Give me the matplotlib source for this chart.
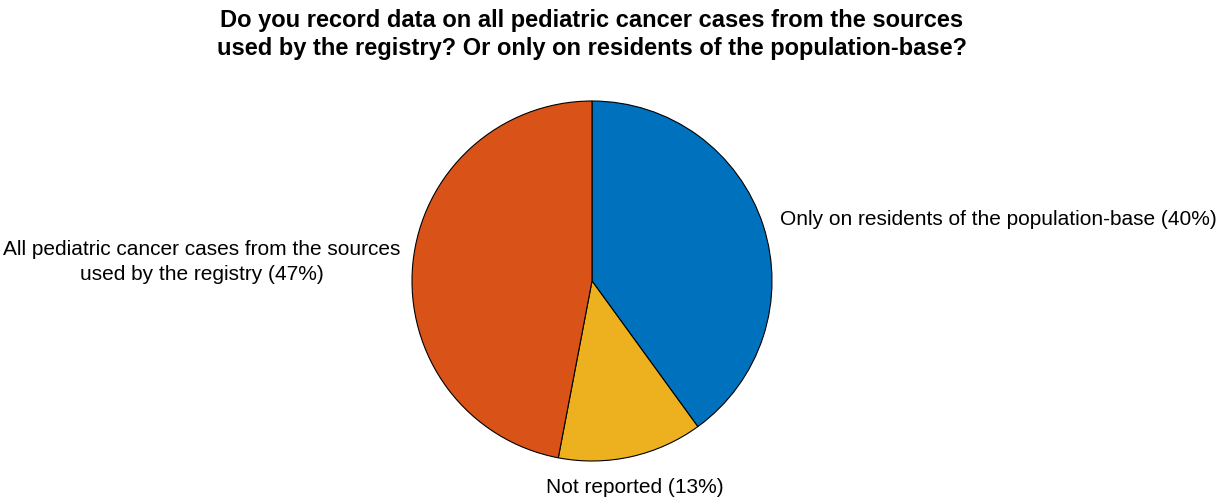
import numpy as np
import matplotlib
matplotlib.use("Agg")
import matplotlib.pyplot as plt

plt.rcParams['font.family'] = ['Liberation Sans', 'DejaVu Sans']

categories = [
    "Only on residents of the population-base",
    "Not reported",
    "All pediatric cancer cases from the sources\nused by the registry",
]
shares = [40, 13, 47]
colors = ["#0072BD", "#EDB120", "#D95319"]
title = ("Do you record data on all pediatric cancer cases from the sources\n"
         "used by the registry? Or only on residents of the population-base?")

W, H = 1216, 501
fig = plt.figure(figsize=(W / 100, H / 100), dpi=100)
cx, cy, r = 592, 281, 180
ax = fig.add_axes([(cx - r) / W, (H - cy - r) / H, 2 * r / W, 2 * r / H])

wedges, _ = ax.pie(shares, colors=colors, startangle=90, counterclock=False,
                   radius=1, wedgeprops=dict(edgecolor="black", linewidth=0.8))
ax.set_aspect("auto")
ax.set_xlim(-1, 1)
ax.set_ylim(-1, 1)
ax.axis("off")

for w, cat, val in zip(wedges, categories, shares):
    mid = np.deg2rad((w.theta1 + w.theta2) / 2)
    x, y = 1.1 * np.cos(mid), 1.1 * np.sin(mid)
    ha = "left" if x > 0.3 else ("right" if x < -0.3 else "center")
    if x < -0.3:
        x += 0.03
    va = "top" if y < -0.8 else ("bottom" if y > 0.8 else "center")
    if y < -0.8:
        y -= 0.02
    ax.text(x, y, f"{cat} ({val}%)", ha=ha, va=va, multialignment="center",
            fontsize=15, linespacing=1.4, clip_on=False)

fig.text(cx / W, 1 - 9 / H, title, ha="center", va="top", fontsize=17,
         fontweight="bold", linespacing=1.3)

fig.savefig("out.png", dpi=100, facecolor="white")
